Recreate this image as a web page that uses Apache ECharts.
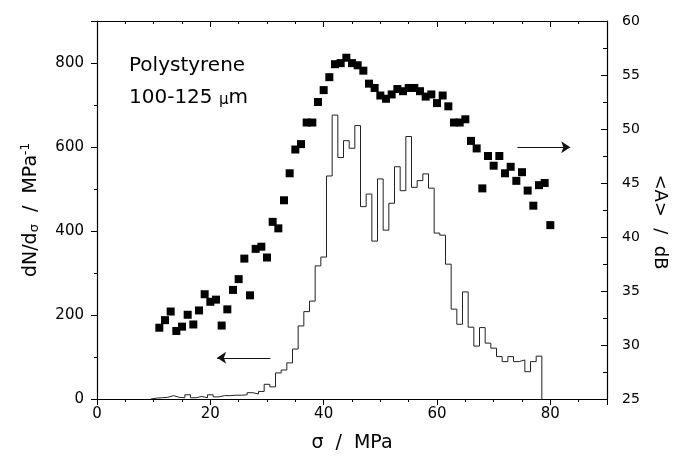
<!DOCTYPE html>
<html>
<head>
<meta charset="utf-8">
<script src="https://cdn.jsdelivr.net/npm/echarts@6/dist/echarts.min.js"></script>
<style>
	html, body { margin: 0; padding: 0; background: #fff; }
	#chart { width: 677px; height: 459px; }
</style>
</head>
<body>
<div id="chart"></div>
<script>
// histogram, 1 MPa bins centred on the integer stress
var histCentres = [10, 11, 12, 13, 14, 15, 16, 17, 18, 19, 20, 21, 22, 23, 24, 25, 26, 27, 28, 29,
	30, 31, 32, 33, 34, 35, 36, 37, 38, 39, 40, 41, 42, 43, 44, 45, 46, 47, 48, 49,
	50, 51, 52, 53, 54, 55, 56, 57, 58, 59, 60, 61, 62, 63, 64, 65, 66, 67, 68, 69,
	70, 71, 72, 73, 74, 75, 76, 77, 78];
var histCounts = [2, 3, 4, 8, 4, 3, 10, 3, 6, 3, 10, 5, 8, 8, 9, 9, 10, 15, 12, 18,
	35, 29, 62, 69, 86, 119, 174, 208, 233, 317, 338, 531, 676, 575, 615, 597, 651, 458, 488, 376,
	524, 402, 466, 553, 496, 625, 504, 520, 536, 502, 395, 390, 321, 214, 178, 255, 171, 126, 170, 133,
	121, 101, 89, 101, 89, 93, 65, 89, 102];

// mean amplitude <A> (dB)
var ampSigma = [11, 12, 13, 14, 15, 16, 17, 18, 19, 20, 21, 22, 23, 24, 25, 26, 27, 28, 29, 30,
	31, 32, 33, 34, 35, 36, 37, 38, 39, 40, 41, 42, 43, 44, 45, 46, 47, 48, 49, 50,
	51, 52, 53, 54, 55, 56, 57, 58, 59, 60, 61, 62, 63, 64, 65, 66, 67, 68, 69, 70,
	71, 72, 73, 74, 75, 76, 77, 78, 79, 80];
var ampDb = [31.6, 32.3, 33.1, 31.3, 31.7, 32.8, 31.9, 33.2, 34.7, 34.0, 34.2, 31.8, 33.3, 35.1, 36.1, 38.0, 34.6, 38.9, 39.1, 38.1,
	41.4, 40.8, 43.4, 45.9, 48.1, 48.6, 50.6, 50.6, 52.5, 53.6, 54.8, 56.0, 56.1, 56.6, 56.1, 55.9, 55.4, 54.2, 53.8, 53.1,
	52.8, 53.2, 53.7, 53.5, 53.8, 53.8, 53.5, 53.0, 53.2, 52.4, 53.1, 52.1, 50.6, 50.6, 50.9, 48.9, 48.2, 44.5, 47.5, 46.6,
	47.5, 45.9, 46.5, 45.2, 46.0, 44.3, 42.9, 44.8, 45.0, 41.1];

var FONT = 'DejaVu Sans';

//台阶线
var histLine = [[histCentres[0] - 0.5, 0]];
for (var i = 0; i < histCentres.length; i++) {
	histLine.push([histCentres[i] - 0.5, histCounts[i]]);
	histLine.push([histCentres[i] + 0.5, histCounts[i]]);
}
histLine.push([histCentres[histCentres.length - 1] + 0.5, 0]);

var ampData = [];
for (var j = 0; j < ampSigma.length; j++) {
	ampData.push([ampSigma[j], ampDb[j]]);
}

var axisCol = '#000';

var option = {
	animation: false,
	backgroundColor: '#fff',
	textStyle: { fontFamily: FONT, color: '#000' },
	grid: { left: 97, right: 65, top: 21, bottom: 60 },
	graphic: [{
		type: 'text', left: 129, top: 56,
		style: { text: 'Polystyrene', font: '20px "DejaVu Sans"', fill: '#000' }
	}, {
		type: 'text', left: 129, top: 88,
		style: {
			text: '100-125 {mu|μ}m', font: '20px "DejaVu Sans"', fill: '#000',
			rich: { mu: { fontSize: 15, fontFamily: FONT, padding: [4, 0, 0, 0] } }
		}
	}],
	xAxis: [{
		type: 'value', position: 'bottom', min: 0, max: 90, interval: 20,
		name: 'σ  /  MPa', nameLocation: 'middle', nameGap: 35,
		nameTextStyle: { fontSize: 19, fontFamily: FONT, color: '#000' },
		axisLine: { show: true, onZero: false, lineStyle: { color: axisCol, width: 1.2 } },
		axisTick: { show: true, inside: false, length: 6, lineStyle: { color: axisCol } },
		minorTick: { show: true, splitNumber: 4, length: 3, lineStyle: { color: axisCol } },
		axisLabel: { fontSize: 15, margin: 8, color: '#000',
			formatter: function(v) { return v > 80 ? '' : v; } },
		splitLine: { show: false }
	}, {
		type: 'value', position: 'top', min: 0, max: 90, interval: 20,
		axisLine: { show: true, onZero: false, lineStyle: { color: axisCol, width: 1.2 } },
		axisTick: { show: true, inside: true, length: 6, lineStyle: { color: axisCol } },
		minorTick: { show: true, splitNumber: 4, length: 3, lineStyle: { color: axisCol } },
		axisLabel: { show: false },
		splitLine: { show: false }
	}],
	yAxis: [{
		type: 'value', position: 'left', min: 0, max: 900, interval: 200,
		name: 'dN/d{sub|σ}  /  MPa{sup|-1}', nameLocation: 'middle', nameGap: 55,
		nameTextStyle: {
			fontSize: 19, fontFamily: FONT, color: '#000',
			rich: {
				sub: { fontSize: 13, fontFamily: FONT, padding: [8, 0, 0, 0] },
				sup: { fontSize: 12, fontFamily: FONT, padding: [0, 0, 10, 0] }
			}
		},
		axisLine: { show: true, onZero: false, lineStyle: { color: axisCol, width: 1.2 } },
		axisTick: { show: true, inside: false, length: 6, lineStyle: { color: axisCol } },
		minorTick: { show: true, splitNumber: 2, length: 3, lineStyle: { color: axisCol } },
		axisLabel: { fontSize: 15, margin: 13, color: '#000',
			formatter: function(v) { return v > 800 ? '' : v; } },
		splitLine: { show: false }
	}, {
		type: 'value', position: 'right', min: 25, max: 60, interval: 5,
		name: '<A>  /  dB', nameLocation: 'middle', nameGap: 44, nameRotate: -90,
		nameTextStyle: { fontSize: 18, fontFamily: FONT, color: '#000', padding: [0, 0, 0, 24] },
		axisLine: { show: true, onZero: false, lineStyle: { color: axisCol, width: 1.2 } },
		axisTick: { show: true, inside: true, length: 6, lineStyle: { color: axisCol } },
		minorTick: { show: true, splitNumber: 2, length: 4, lineStyle: { color: axisCol } },
		axisLabel: { fontSize: 14, margin: 15, color: '#000' },
		splitLine: { show: false }
	}],
	series: [{
		name: 'dN/dσ', type: 'line', xAxisIndex: 0, yAxisIndex: 0,
		data: histLine, symbol: 'none', showSymbol: false,
		lineStyle: { color: '#222', width: 1 },
		markLine: {
			silent: true, symbol: ['none', 'arrow'], symbolSize: 9,
			label: { show: false },
			lineStyle: { color: '#111', type: 'solid', width: 1.2 },
			data: [[{ coord: [30.6, 98] }, { coord: [21.2, 98] }]]
		}
	}, {
		name: '<A>', type: 'scatter', xAxisIndex: 0, yAxisIndex: 1,
		data: ampData, symbol: 'rect', symbolSize: 8,
		itemStyle: { color: '#000', opacity: 1 },
		markLine: {
			silent: true, symbol: ['none', 'arrow'], symbolSize: 9,
			label: { show: false },
			lineStyle: { color: '#111', type: 'solid', width: 1.2 },
			data: [[{ coord: [74.2, 48.3] }, { coord: [83.5, 48.3] }]]
		}
	}]
};

var chart = echarts.init(document.getElementById('chart'));
chart.setOption(option);
</script>
</body>
</html>
